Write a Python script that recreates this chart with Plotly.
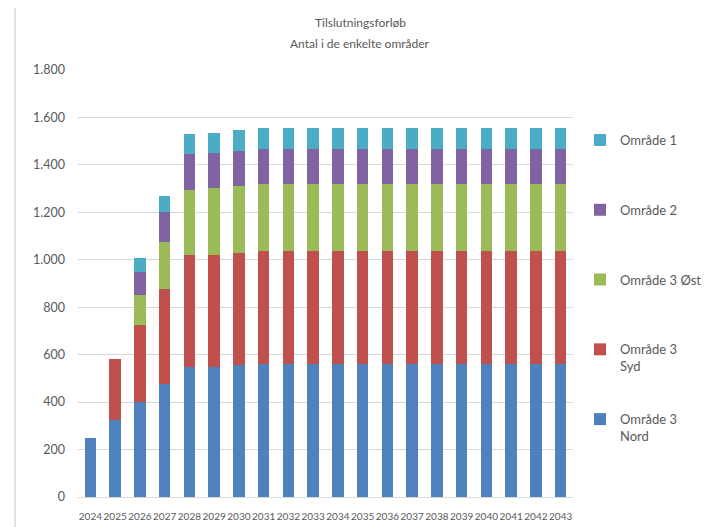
import plotly.graph_objects as go

years = [str(y) for y in range(2024, 2044)]

omr3_nord = [250, 325, 400, 475, 550, 550, 555] + [560] * 13
omr3_syd = [0, 255, 325, 400, 470, 470, 475] + [477] * 13
omr3_ost = [0, 0, 125, 200, 275, 282, 281] + [281] * 13
omr2 = [0, 0, 97, 125, 150, 148, 148] + [148] * 13
omr1 = [0, 0, 60, 70, 84, 84, 88] + [90] * 13

series = [
    ("Område 3<br>Nord", omr3_nord, "#4F81BD"),
    ("Område 3<br>Syd", omr3_syd, "#C0504D"),
    ("Område 3 Øst<br> ", omr3_ost, "#9BBB59"),
    ("Område 2<br> ", omr2, "#8064A2"),
    ("Område 1<br> ", omr1, "#4BACC6"),
]

fig = go.Figure()
n = len(series)
for i, (name, vals, col) in enumerate(series):
    fig.add_trace(go.Bar(
        x=years, y=vals, name=name, legendgroup=name,
        legendrank=n - i,
        marker=dict(color=col, line=dict(width=0)),
    ))

# page body has an 8px offset; reference pixel coords are shifted by OFF
OFF = 8
W, H = 710 - OFF, 527 - OFF
L, T = 78 - OFF, 70 - OFF
R = W - (573 - OFF)
B = H - (497 - OFF)
pw, ph = W - L - R, H - T - B

def px(x):
    return (x - OFF - L) / pw

def py(y):
    return (H - B - (y - OFF)) / ph

fig.update_layout(
    width=W, height=H,
    margin=dict(l=L, r=R, t=T, b=B, pad=0, autoexpand=False),
    barmode="stack",
    bargap=0.53,
    paper_bgcolor="white",
    plot_bgcolor="white",
    separators=",.",
    font=dict(family="Lato", color="#595959"),
    showlegend=True,
    legend=dict(
        x=px(580), y=py(125), xanchor="left", yanchor="top",
        traceorder="grouped",
        tracegroupgap=33,
        valign="top",
        font=dict(size=13, color="#595959"),
        bgcolor="rgba(0,0,0,0)",
    ),
    xaxis=dict(
        type="category",
        automargin=False,
        showgrid=False,
        showline=False,
        ticks="",
        ticklabelstandoff=12,
        tickfont=dict(size=10, color="#595959"),
        tickangle=0,
    ),
    yaxis=dict(
        range=[0, 1800],
        automargin=False,
        dtick=200,
        tickformat=",d",
        showgrid=True,
        gridcolor="#D9D9D9",
        gridwidth=1,
        zeroline=True,
        zerolinecolor="#D9D9D9",
        zerolinewidth=1,
        showline=False,
        ticks="",
        ticklabelstandoff=12,
        tickfont=dict(size=12.5, color="#595959"),
    ),
    shapes=[
        dict(type="rect", xref="paper", yref="paper",
             x0=px(15), x1=px(704), y0=py(545), y1=py(5),
             line=dict(color="#D9D9D9", width=1.5), layer="below"),
    ],
    annotations=[
        dict(text="Tilslutningsforløb", xref="paper", yref="paper",
             x=px(360), y=py(22), xanchor="center", yanchor="middle",
             showarrow=False, font=dict(size=12, color="#595959")),
        dict(text="Antal i de enkelte områder", xref="paper", yref="paper",
             x=px(360), y=py(44), xanchor="center", yanchor="middle",
             showarrow=False, font=dict(size=12, color="#595959")),
    ],
)

fig.write_html("out.html")
